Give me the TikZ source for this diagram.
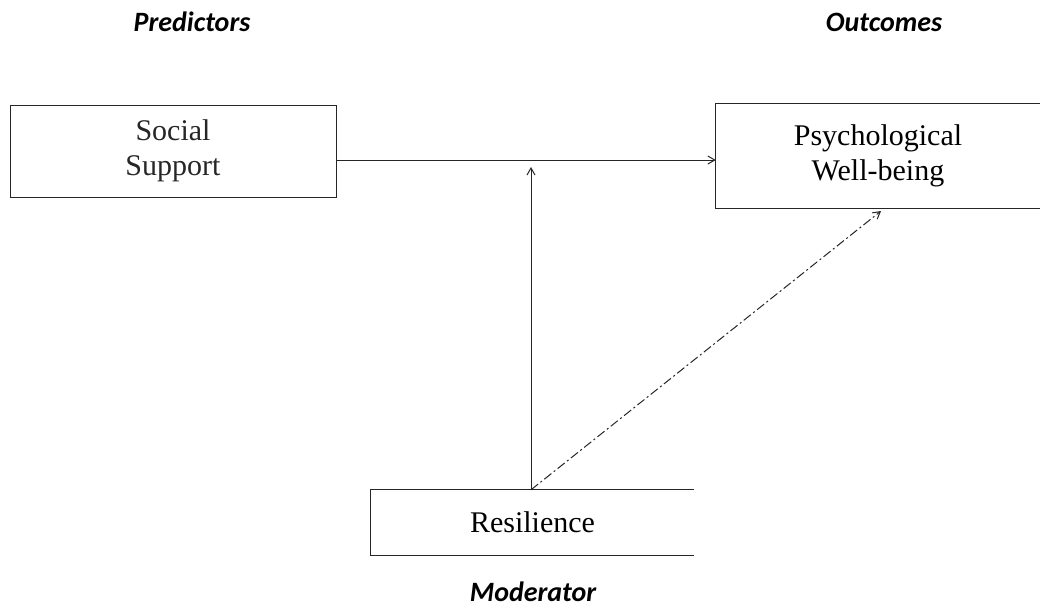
\documentclass[tikz,border=0pt]{standalone}
\usepackage{fontspec}
\setmainfont{Liberation Serif}
\newfontfamily\headfont{Carlito}
\usetikzlibrary{arrows.meta}
\begin{document}
\begin{tikzpicture}[x=1pt,y=-1pt,
  boxtext/.style={font=\fontsize{30}{35}\selectfont, align=center, inner sep=0pt},
  headtext/.style={font=\headfont\bfseries\itshape\fontsize{28}{32}\selectfont, inner sep=0pt},
  frame/.style={line width=1pt, black!85},
  conn/.style={line width=1pt, black!85, -{Straight Barb[length=7pt,width=8pt,line width=1pt]}},
  dconn/.style={conn, dash pattern=on 9pt off 3pt on 2pt off 3pt}
]
\useasboundingbox (0,0) rectangle (1040,610);
% headings
\node[headtext] (hpred) at (192,22) {Predictors};
\node[headtext] (hout) at (884,22) {Outcomes};
\node[headtext] (hmod) at (533,592) {Moderator};
% boxes
\node[boxtext, draw, frame, minimum width=326pt, minimum height=92pt] (ss) at (173,151) {Social\\Support};
\node[boxtext, minimum width=324pt, minimum height=104pt] (pw) at (878,156) {Psychological\\Well-being};
\draw[frame] (pw.north east) -- (pw.north west) -- (pw.south west) -- (pw.south east);
\node[boxtext, minimum width=323pt, minimum height=65pt] (res) at (532.5,522.5) {Resilience};
\draw[frame] (res.north east) -- (res.north west) -- (res.south west) -- (res.south east);
% connectors
\coordinate (mid) at (531,167);
\coordinate (pwtip) at (881,211);
\draw[conn] (ss.east |- 0,160) -- (pw.west |- 0,160);
\draw[conn] (res.north -| 531,0) -- (mid);
\draw[dconn] (res.north -| 531,0) -- (pwtip);
\end{tikzpicture}
\end{document}
